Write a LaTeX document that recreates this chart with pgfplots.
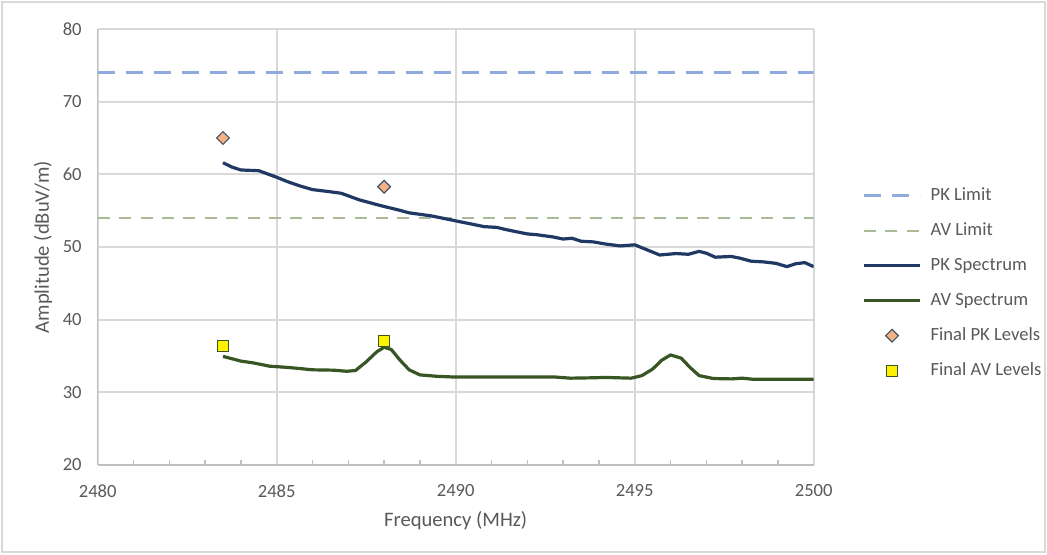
\documentclass[border=0pt]{standalone}
\usepackage{pgfplots}
\pgfplotsset{compat=1.18}
\usepackage{fontspec}
\setmainfont{Carlito}

\definecolor{txtgray}{HTML}{595959}
\definecolor{gridgray}{HTML}{D9D9D9}
\definecolor{axisgray}{HTML}{BFBFBF}
\definecolor{pklimit}{HTML}{8FAADC}
\definecolor{avlimit}{HTML}{A9BA96}
\definecolor{pkspec}{HTML}{203864}
\definecolor{avspec}{HTML}{375623}
\definecolor{pkfill}{HTML}{F4B183}
\definecolor{pkedge}{HTML}{44546A}

\begin{document}
\begin{tikzpicture}
\path[use as bounding box] (0pt,0pt) rectangle (523.5pt,277pt);
\draw[color=gridgray, line width=0.6pt] (1pt,1pt) rectangle (522.5pt,276pt);
\begin{axis}[
    at={(48.85pt,44.5pt)}, anchor=south west,
    scale only axis, width=358pt, height=218pt,
    xmin=2480, xmax=2500, ymin=20, ymax=80,
    xtick={2480,2485,...,2500},
    ytick={20,30,...,80},
    minor x tick num=4,
    scaled x ticks=false,
    /pgf/number format/1000 sep={},
    /pgf/number format/assume math mode=true,
    axis lines*=left,
    axis line style={-, color=axisgray, line width=0.8pt},
    grid=major,
    major grid style={color=gridgray, line width=0.9pt},
    tick align=inside,
    major tick style={draw=none},
    minor tick style={color=axisgray, line width=0.8pt},
    minor tick length=2.5pt,
    tick label style={font=\fontsize{9.3}{11}\selectfont, color=txtgray},
    yticklabel style={xshift=-4.5pt},
    xticklabel style={yshift=-6.4pt},
    label style={font=\fontsize{10.3}{12}\selectfont, color=txtgray},
    xlabel={Frequency (MHz)},
    ylabel={Amplitude (dBuV/m)},
    x label style={at={(axis description cs:0.5,-0.1284)}, anchor=center},
    y label style={at={(axis description cs:-0.0764,0.5)}, anchor=center},
    legend cell align=left,
    legend image code/.code={\draw[mark repeat=2,mark phase=2,#1] plot coordinates {(0pt,0pt) (14pt,0pt) (28pt,0pt)};},
    legend style={at={(1.0675,0.417)}, anchor=west, draw=none, fill=none,
        inner sep=0pt, row sep=8.5pt, column sep=4.5pt,
        font=\fontsize{9.3}{11}\selectfont, text=txtgray,
        nodes={inner sep=0pt, text height=7pt, text depth=2pt}},
]
\addplot[pklimit, line width=1.5pt, dash pattern=on 8.5pt off 5.5pt] coordinates {(2480,74) (2500,74)};
\addlegendentry{PK Limit}
\addplot[avlimit, line width=1.1pt, dash pattern=on 6pt off 4.7pt] coordinates {(2480,54) (2500,54)};
\addlegendentry{AV Limit}
\addplot[pkspec, line width=1.6pt, line join=round] coordinates {
(2483.5,61.6) (2483.75,61.0) (2484.0,60.6) (2484.5,60.5) (2485.0,59.6)
(2485.3,59.0) (2485.65,58.4) (2486.0,57.9) (2486.5,57.6) (2486.8,57.4)
(2487.3,56.5) (2487.9,55.7) (2488.4,55.1) (2488.7,54.7) (2489.3,54.3)
(2490.0,53.6) (2490.3,53.3) (2490.8,52.8) (2491.15,52.7) (2491.4,52.4)
(2492.0,51.8) (2492.25,51.7) (2492.7,51.4) (2493.0,51.1) (2493.25,51.2)
(2493.5,50.8) (2493.85,50.7) (2494.2,50.4) (2494.6,50.15) (2495.0,50.3)
(2495.25,49.8) (2495.7,48.9) (2496.15,49.1) (2496.5,49.0) (2496.8,49.4)
(2497.0,49.15) (2497.25,48.6) (2497.7,48.7) (2497.95,48.45) (2498.25,48.05)
(2498.6,47.95) (2498.95,47.75) (2499.25,47.3) (2499.5,47.7) (2499.75,47.85)
(2500.0,47.3)
};
\addlegendentry{PK Spectrum}
\addplot[avspec, line width=1.6pt, line join=round] coordinates {
(2483.5,34.95) (2484.0,34.3) (2484.35,34.05) (2484.8,33.6) (2485.25,33.45)
(2485.6,33.3) (2486.0,33.1) (2486.6,33.05) (2486.95,32.9) (2487.2,33.0)
(2487.5,34.2) (2487.8,35.6) (2488.0,36.2) (2488.2,35.9) (2488.45,34.4)
(2488.7,33.1) (2489.0,32.4) (2489.5,32.2) (2490.0,32.1) (2491.0,32.1)
(2492.0,32.1) (2492.8,32.1) (2493.2,31.95) (2493.8,32.0) (2494.2,32.05)
(2494.9,31.95) (2495.2,32.3) (2495.5,33.2) (2495.75,34.4) (2496.0,35.15)
(2496.3,34.7) (2496.55,33.4) (2496.8,32.3) (2497.2,31.9) (2497.7,31.85)
(2498.0,31.95) (2498.3,31.8) (2499.0,31.8) (2500.0,31.8)
};
\addlegendentry{AV Spectrum}
\addplot[only marks, mark=square*, mark size=2.25pt,
    mark options={rotate=45, fill=pkfill, draw=pkedge, line width=0.6pt}]
    coordinates {(2483.5,65.0) (2488.0,58.3)};
\addlegendentry{Final PK Levels}
\addplot[only marks, mark=square*, mark size=2.75pt,
    mark options={fill=yellow, draw=avspec, line width=0.6pt}]
    coordinates {(2483.5,36.4) (2488.0,37.1)};
\addlegendentry{Final AV Levels}
\end{axis}
\end{tikzpicture}
\end{document}
